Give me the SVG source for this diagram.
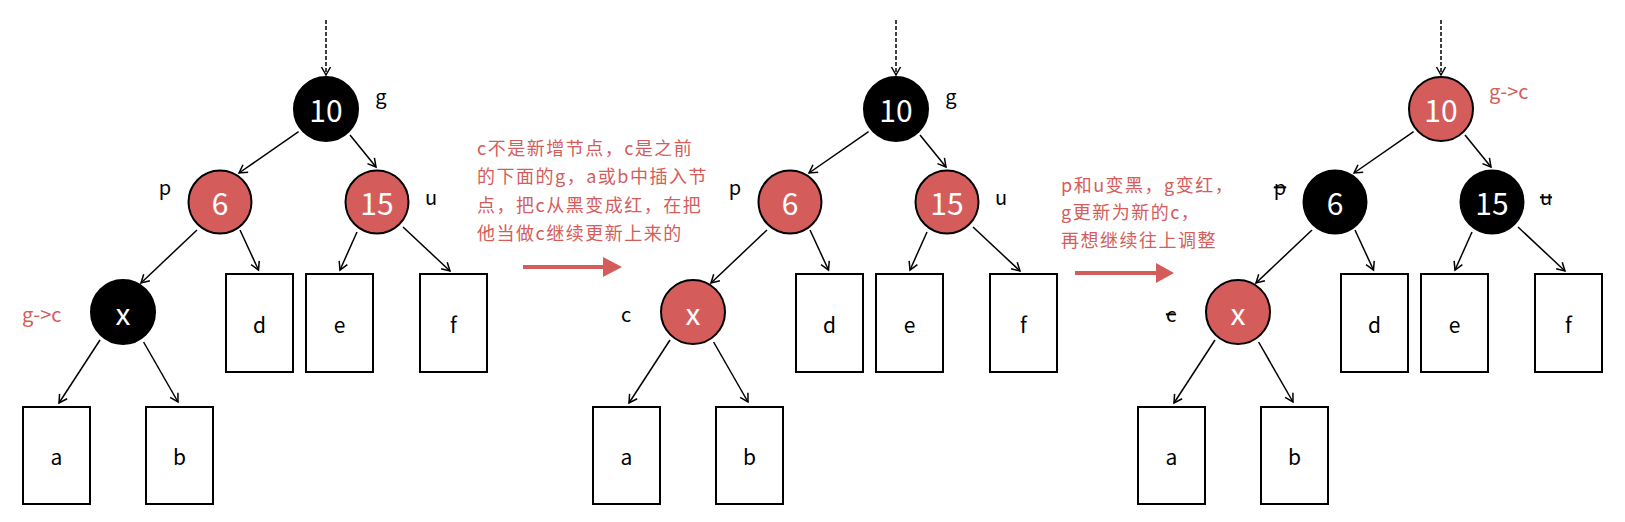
<svg xmlns="http://www.w3.org/2000/svg" width="1625" height="522" viewBox="0 0 1625 522">
<style>
text{font-family:"Noto Sans CJK SC","Liberation Sans",sans-serif}
.red{fill:#d45d5b;stroke:#000;stroke-width:2}
.blk{fill:#000;stroke:#000;stroke-width:2}
.box{fill:#fff;stroke:#000;stroke-width:2}
.nt{fill:#fff;font-size:30px;text-anchor:middle}
.bt{fill:#000;font-size:21px;text-anchor:middle}
.lb{fill:#000;font-size:20px;text-anchor:middle}
.st{text-decoration:line-through}
.rl{fill:#d45d5b;font-size:20px}
.note{fill:#d45d5b;font-size:18px;letter-spacing:1.5px}
.edge{stroke:#000;stroke-width:1.5;fill:none;marker-end:url(#ah)}
.dot{stroke-dasharray:4 2}
</style>
<defs>
<marker id="ah" markerUnits="userSpaceOnUse" markerWidth="14" markerHeight="14" viewBox="-11 -7 14 14" refX="0" refY="0" orient="auto">
<path d="M-8,-4.5 L0,0 L-8,4.5" fill="none" stroke="#000" stroke-width="1.5"/>
</marker>
</defs>
<rect width="1625" height="522" fill="#fff"/>

<g id="connectors">
<g id="edges-1">
<line class="edge dot" x1="326" y1="20" x2="326" y2="75"/>
<line class="edge" x1="298.6" y1="131.7" x2="239" y2="173"/>
<line class="edge" x1="350" y1="135" x2="376" y2="167"/>
<line class="edge" x1="197" y1="230" x2="141" y2="283"/>
<line class="edge" x1="240" y1="230" x2="258.5" y2="270"/>
<line class="edge" x1="357" y1="232" x2="340" y2="270"/>
<line class="edge" x1="403" y1="227" x2="450" y2="271"/>
<line class="edge" x1="100" y1="340" x2="59" y2="403"/>
<line class="edge" x1="143.6" y1="342" x2="178" y2="402"/>
</g>
<g id="edges-2" transform="translate(570,0)">
<line class="edge dot" x1="326" y1="20" x2="326" y2="75"/>
<line class="edge" x1="298.6" y1="131.7" x2="239" y2="173"/>
<line class="edge" x1="350" y1="135" x2="376" y2="167"/>
<line class="edge" x1="197" y1="230" x2="141" y2="283"/>
<line class="edge" x1="240" y1="230" x2="258.5" y2="270"/>
<line class="edge" x1="357" y1="232" x2="340" y2="270"/>
<line class="edge" x1="403" y1="227" x2="450" y2="271"/>
<line class="edge" x1="100" y1="340" x2="59" y2="403"/>
<line class="edge" x1="143.6" y1="342" x2="178" y2="402"/>
</g>
<g id="edges-3" transform="translate(1115,0)">
<line class="edge dot" x1="326" y1="20" x2="326" y2="75"/>
<line class="edge" x1="298.6" y1="131.7" x2="239" y2="173"/>
<line class="edge" x1="350" y1="135" x2="376" y2="167"/>
<line class="edge" x1="197" y1="230" x2="141" y2="283"/>
<line class="edge" x1="240" y1="230" x2="258.5" y2="270"/>
<line class="edge" x1="357" y1="232" x2="340" y2="270"/>
<line class="edge" x1="403" y1="227" x2="450" y2="271"/>
<line class="edge" x1="100" y1="340" x2="59" y2="403"/>
<line class="edge" x1="143.6" y1="342" x2="178" y2="402"/>
</g>
<g id="step-arrows" fill="#d45d5b" stroke="none">
<rect x="523" y="265" width="82" height="4"/>
<polygon points="603,257 622,267 603,277"/>
<rect x="1075" y="271" width="83" height="4"/>
<polygon points="1156,263 1174,273 1156,283"/>
</g>
</g>

<g id="tree1">
<g id="t1-n10"><circle class="blk" cx="326" cy="109" r="32"/><text class="nt" x="326" y="122">10</text></g>
<g id="t1-n6"><circle class="red" cx="220" cy="202" r="31.5"/><text class="nt" x="220" y="215">6</text></g>
<g id="t1-n15"><circle class="red" cx="377" cy="202" r="31.5"/><text class="nt" x="377" y="215">15</text></g>
<g id="t1-nx"><circle class="blk" cx="123" cy="312" r="32"/><text class="nt" x="123" y="325">x</text></g>
<g id="t1-a"><rect class="box" x="23" y="407" width="67" height="97"/><text class="bt" x="56.5" y="465">a</text></g>
<g id="t1-b"><rect class="box" x="146" y="407" width="67" height="97"/><text class="bt" x="179.5" y="465">b</text></g>
<g id="t1-d"><rect class="box" x="226" y="274" width="67" height="98"/><text class="bt" x="259.5" y="333">d</text></g>
<g id="t1-e"><rect class="box" x="306" y="274" width="67" height="98"/><text class="bt" x="339.5" y="333">e</text></g>
<g id="t1-f"><rect class="box" x="420" y="274" width="67" height="98"/><text class="bt" x="453.5" y="333">f</text></g>
<g id="t1-labels">
<text class="lb" x="381" y="104">g</text>
<text class="lb" x="165" y="195">p</text>
<text class="lb" x="431" y="205">u</text>
<text class="rl" x="22" y="322">g-&gt;c</text>
</g>
</g>

<g id="note1">
<text class="note" x="477" y="154.5">c不是新增节点，c是之前</text>
<text class="note" x="477" y="183">的下面的g，a或b中插入节</text>
<text class="note" x="477" y="211.5">点，把c从黑变成红，在把</text>
<text class="note" x="477" y="240">他当做c继续更新上来的</text>
</g>

<g id="tree2" transform="translate(570,0)">
<g id="t2-n10"><circle class="blk" cx="326" cy="109" r="32"/><text class="nt" x="326" y="122">10</text></g>
<g id="t2-n6"><circle class="red" cx="220" cy="202" r="31.5"/><text class="nt" x="220" y="215">6</text></g>
<g id="t2-n15"><circle class="red" cx="377" cy="202" r="31.5"/><text class="nt" x="377" y="215">15</text></g>
<g id="t2-nx"><circle class="red" cx="123" cy="312" r="32"/><text class="nt" x="123" y="325">x</text></g>
<g id="t2-a"><rect class="box" x="23" y="407" width="67" height="97"/><text class="bt" x="56.5" y="465">a</text></g>
<g id="t2-b"><rect class="box" x="146" y="407" width="67" height="97"/><text class="bt" x="179.5" y="465">b</text></g>
<g id="t2-d"><rect class="box" x="226" y="274" width="67" height="98"/><text class="bt" x="259.5" y="333">d</text></g>
<g id="t2-e"><rect class="box" x="306" y="274" width="67" height="98"/><text class="bt" x="339.5" y="333">e</text></g>
<g id="t2-f"><rect class="box" x="420" y="274" width="67" height="98"/><text class="bt" x="453.5" y="333">f</text></g>
<g id="t2-labels">
<text class="lb" x="381" y="104">g</text>
<text class="lb" x="165" y="195">p</text>
<text class="lb" x="431" y="205">u</text>
<text class="lb" x="56" y="322">c</text>
</g>
</g>

<g id="note2">
<text class="note" x="1061" y="191.5">p和u变黑，g变红，</text>
<text class="note" x="1061" y="219">g更新为新的c，</text>
<text class="note" x="1061" y="246.5">再想继续往上调整</text>
</g>

<g id="tree3" transform="translate(1115,0)">
<g id="t3-n10"><circle class="red" cx="326" cy="109" r="32"/><text class="nt" x="326" y="122">10</text></g>
<g id="t3-n6"><circle class="blk" cx="220" cy="202" r="31.5"/><text class="nt" x="220" y="215">6</text></g>
<g id="t3-n15"><circle class="blk" cx="377" cy="202" r="31.5"/><text class="nt" x="377" y="215">15</text></g>
<g id="t3-nx"><circle class="red" cx="123" cy="312" r="32"/><text class="nt" x="123" y="325">x</text></g>
<g id="t3-a"><rect class="box" x="23" y="407" width="67" height="97"/><text class="bt" x="56.5" y="465">a</text></g>
<g id="t3-b"><rect class="box" x="146" y="407" width="67" height="97"/><text class="bt" x="179.5" y="465">b</text></g>
<g id="t3-d"><rect class="box" x="226" y="274" width="67" height="98"/><text class="bt" x="259.5" y="333">d</text></g>
<g id="t3-e"><rect class="box" x="306" y="274" width="67" height="98"/><text class="bt" x="339.5" y="333">e</text></g>
<g id="t3-f"><rect class="box" x="420" y="274" width="67" height="98"/><text class="bt" x="453.5" y="333">f</text></g>
<g id="t3-labels">
<text class="rl" x="374" y="99">g-&gt;c</text>
<text class="lb st" x="165" y="195">p</text>
<text class="lb st" x="431" y="205">u</text>
<text class="lb st" x="56" y="322">c</text>
</g>
</g>
</svg>
